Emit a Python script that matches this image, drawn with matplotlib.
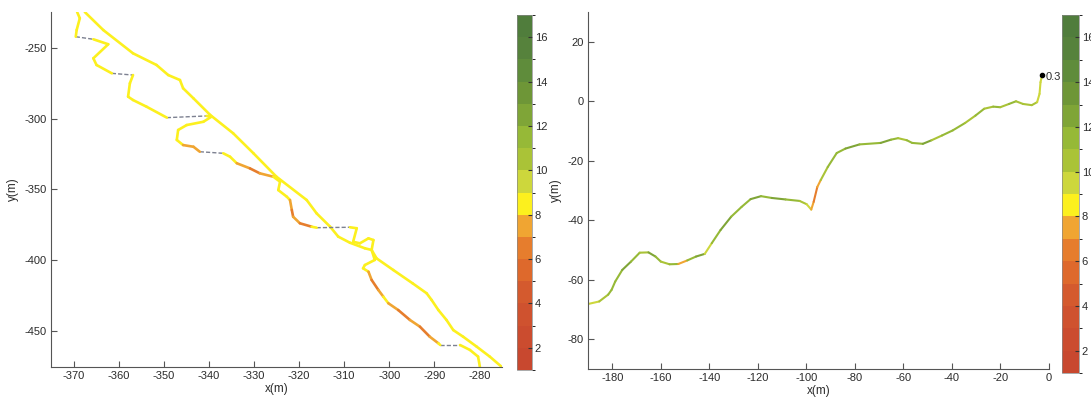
"""
Two speed-coloured track plots with discrete colour bars (MATLAB look).
"""

import numpy as np
import matplotlib
matplotlib.use("Agg")
import matplotlib.pyplot as plt
from matplotlib.collections import LineCollection
from matplotlib.colors import ListedColormap, BoundaryNorm
from matplotlib.cm import ScalarMappable

plt.rcParams["font.family"] = ["Liberation Sans", "DejaVu Sans"]
plt.rcParams["axes.unicode_minus"] = False

TEXT = "#2b2b2b"
SPINE = "#555555"
GAP = "#7d8191"

# --- colour scale (speed bands 1..17) ---
BAND_EDGES = list(range(1, 18))
BAND_COLORS = [
    "#c8482f", "#cb4c2f", "#cf522f", "#d45a2e", "#de692c", "#e67d2d",
    "#f0a532", "#fcf01e", "#cdd73c", "#aac337", "#96b937", "#7fa537",
    "#6e9637", "#5f8c3b", "#56823c", "#507d3c",
]
CB_TICKS = [2, 4, 6, 8, 10, 12, 14, 16]

# --- left plot: loop track ---
outer_x = [-367.5, -363.4, -356.8, -351.6, -349.0, -346.4, -345.7, -343.4, -339.7, -334.6,
           -330.1, -325.0, -318.3, -316.1, -313.1, -311.3, -308.7, -305.4, -303.9, -302.8,
           -299.1, -294.8, -291.7, -290.6, -289.1, -287.3, -285.8, -283.6, -280.6, -277.7,
           -275.1]
outer_y = [-225.0, -237.7, -254.1, -262.3, -269.4, -272.9, -278.7, -285.8, -297.5, -310.4,
           -324.5, -341.0, -357.4, -366.8, -376.2, -383.2, -387.5, -391.4, -392.6, -398.5,
           -406.7, -416.1, -423.1, -427.8, -434.9, -441.9, -449.0, -453.7, -460.7, -467.7,
           -474.8]
outer_speed = [8.5] * 30

inner_x = [-369.2, -368.6, -369.3, -369.5, -365.6, -362.3, -365.6, -364.9, -361.5, -356.8,
           -357.5, -357.9, -356.8, -353.8, -349.3, -340.5, -339.4, -341.2, -344.9, -346.8,
           -347.1, -345.7, -343.4, -342.0, -336.8, -335.3, -333.8, -330.9, -328.7, -325.7,
           -324.2, -324.6, -322.7, -322.0, -321.6, -321.3, -319.8, -317.2, -316.1, -308.7,
           -307.2, -308.0, -306.5, -304.6, -303.5, -303.9, -303.2, -305.4, -305.8, -304.6,
           -303.9, -302.4, -301.3, -300.2, -298.0, -295.4, -293.2, -291.0, -289.1, -288.7,
           -284.3, -282.1, -280.3, -279.9]
inner_y = [-225.0, -229.4, -237.7, -242.4, -244.2, -247.7, -257.6, -262.3, -268.2, -269.4,
           -275.2, -284.6, -287.0, -291.7, -299.4, -298.2, -298.7, -302.3, -304.6, -308.1,
           -315.1, -318.7, -319.9, -323.4, -324.5, -326.9, -331.5, -335.1, -338.6, -341.0,
           -344.5, -350.4, -355.1, -357.4, -364.4, -369.2, -373.8, -376.2, -376.9, -376.6,
           -377.3, -386.8, -387.9, -384.4, -385.6, -392.6, -399.6, -403.2, -405.5, -407.9,
           -413.7, -420.8, -425.5, -430.1, -434.9, -441.9, -446.6, -453.7, -458.3, -459.5,
           -459.5, -463.0, -467.7, -474.8]
# nan = gap in the record (drawn as grey dashes)
inner_speed = [8.5, 8.5, 8.5, np.nan, 8.5, 8.2, 8.5, 8.5, np.nan, 8.5,
               8.5, 8.5, 8.5, 8.5, np.nan, 8.5, 8.5, 8.5, 8.5, 8.5,
               8.5, 7.0, 7.5, np.nan, 8.5, 8.5, 7.0, 6.5, 7.5, 8.5,
               8.5, 8.5, 8.5, 7.0, 6.5, 7.5, 6.5, 8.5, np.nan, 8.5,
               8.5, 8.5, 8.5, 8.5, 8.5, 8.5, 8.5, 8.5, 8.5, 7.0,
               6.5, 7.0, 8.2, 7.5, 6.5, 7.0, 6.5, 7.5, 8.5, np.nan,
               8.5, 8.5, 8.5]

# --- right plot: single track ---
track_x = [-189.7, -185.4, -181.7, -180.3, -178.8, -175.9, -172.3, -168.7, -165.1, -162.2,
           -160.0, -156.4, -152.8, -149.1, -145.5, -141.9, -139.0, -135.4, -131.0, -126.7,
           -123.0, -118.7, -114.3, -108.6, -102.8, -99.9, -98.0, -97.0, -95.5, -94.1,
           -91.2, -87.5, -83.9, -78.1, -69.4, -65.1, -62.2, -58.6, -56.4, -52.0,
           -48.4, -44.1, -39.7, -34.6, -30.3, -26.7, -23.0, -20.1, -16.5, -13.6,
           -10.7, -7.1, -4.9, -3.9, -3.5, -3.0]
track_y = [-68.1, -67.3, -65.0, -63.4, -60.6, -56.7, -53.9, -50.9, -50.8, -52.2,
           -53.9, -54.8, -54.7, -53.5, -52.2, -51.3, -47.7, -43.3, -38.8, -35.5,
           -32.9, -31.9, -32.5, -33.0, -33.5, -34.6, -36.4, -33.8, -28.8, -26.5,
           -22.1, -17.4, -15.9, -14.5, -14.0, -12.9, -12.4, -13.1, -14.0, -14.3,
           -13.1, -11.5, -9.8, -7.3, -4.8, -2.5, -1.8, -2.0, -0.9, 0.0,
           -0.9, -1.3, -0.3, 2.5, 6.4, 8.3]
track_speed = [9.0, 10.5, 11.0, 11.5, 11.0, 12.0, 11.0, 10.5, 12.0, 11.0,
               10.5, 11.0, 7.0, 11.5, 12.0, 9.5, 11.0, 12.0, 11.0, 11.5,
               12.0, 11.0, 12.0, 11.0, 10.5, 9.0, 7.0, 6.5, 7.0, 10.5,
               11.5, 11.0, 12.0, 11.0, 12.5, 11.0, 10.5, 11.5, 11.0, 12.0,
               10.5, 11.5, 11.0, 10.5, 11.0, 10.0, 11.0, 10.5, 11.5, 10.5,
               10.0, 10.0, 9.8, 9.5, 9.5]
end_point = (-3.0, 8.7)
end_label = "0.3"

cmap = ListedColormap(BAND_COLORS)
norm = BoundaryNorm(BAND_EDGES, cmap.N)


def draw_track(ax, xs, ys, speeds, lw):
    pts = np.column_stack([xs, ys])
    segs = np.stack([pts[:-1], pts[1:]], axis=1)
    speeds = np.asarray(speeds, dtype=float)
    gap = np.isnan(speeds)
    if gap.any():
        ax.add_collection(LineCollection(segs[gap], colors=GAP, linewidths=1.0,
                                         linestyles=(0, (3, 1.5))))
    lc = LineCollection(segs[~gap], cmap=cmap, norm=norm, linewidths=lw,
                        capstyle="round", joinstyle="round")
    lc.set_array(speeds[~gap])
    ax.add_collection(lc)


def style_ax(ax):
    for side in ["top", "right"]:
        ax.spines[side].set_visible(False)
    for side in ["left", "bottom"]:
        ax.spines[side].set_color(SPINE)
        ax.spines[side].set_linewidth(0.8)
    ax.tick_params(direction="in", length=4, width=0.8, colors=SPINE,
                   labelcolor=TEXT, labelsize=8, pad=3)
    ax.set_xlabel("x(m)", fontsize=8.5, color=TEXT, labelpad=1)
    ax.set_ylabel("y(m)", fontsize=8.5, color=TEXT, labelpad=4)


def add_cbar(fig, rect):
    cax = fig.add_axes(rect)
    cb = fig.colorbar(ScalarMappable(norm=norm, cmap=cmap), cax=cax,
                      ticks=CB_TICKS)
    cb.outline.set_linewidth(0.5)
    cb.outline.set_edgecolor("#888888")
    cax.tick_params(direction="in", length=3, width=0.8, colors="#333333",
                    labelcolor=TEXT, labelsize=8, pad=2)
    return cb


fig = plt.figure(figsize=(10.91, 4.07), dpi=100)

ax1 = fig.add_axes([0.0467, 0.0983, 0.4134, 0.8722])
draw_track(ax1, outer_x, outer_y, outer_speed, 1.9)
draw_track(ax1, inner_x, inner_y, inner_speed, 1.9)
ax1.set_xlim(-375, -275)
ax1.set_ylim(-475, -225)
ax1.set_xticks(range(-370, -279, 10))
ax1.set_yticks(range(-450, -249, 50))
style_ax(ax1)
add_cbar(fig, [0.4739, 0.0909, 0.01375, 0.8722])

ax2 = fig.add_axes([0.539, 0.0934, 0.4225, 0.877])
draw_track(ax2, track_x, track_y, track_speed, 1.5)
ax2.plot(*end_point, "o", color="black", markersize=3)
ax2.annotate(end_label, end_point, xytext=(3, -3), textcoords="offset points",
             fontsize=8, color=TEXT)
ax2.set_xlim(-190, 0)
ax2.set_ylim(-90, 30)
ax2.set_xticks(range(-180, 1, 20))
ax2.set_yticks(range(-80, 21, 20))
style_ax(ax2)
add_cbar(fig, [0.9734, 0.0835, 0.0156, 0.8796])

fig.savefig("out.png", dpi=100, facecolor="white")
